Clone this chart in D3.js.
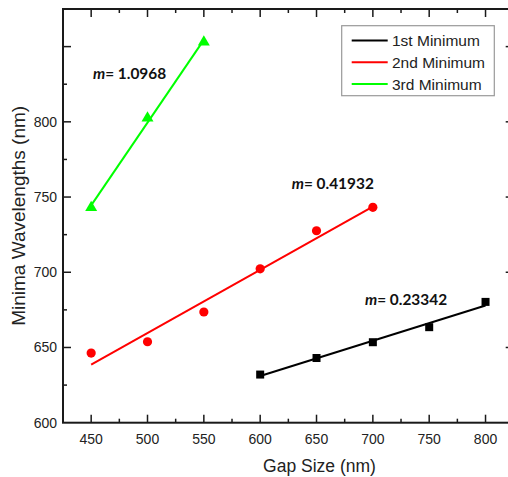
<!DOCTYPE html>
<html><head><meta charset="utf-8">
<script src="https://cdn.jsdelivr.net/npm/d3@7"></script>
<style>html,body{margin:0;padding:0;background:#fff;overflow:hidden}</style>
</head><body>
<svg id="c" width="508" height="477"></svg>
<script>
// ---- data ----
const gap1 = [600, 650, 700, 750, 800];
const min1 = [632, 643, 653.5, 663.5, 680.3];
const gap2 = [450, 500, 550, 600, 650, 700];
const min2 = [646.3, 653.8, 673.6, 702.3, 727.6, 743.2];
const gap3 = [450, 500, 550];
const min3 = [743, 802.5, 853];
const seriesNames = ["1st Minimum", "2nd Minimum", "3rd Minimum"];
const seriesColors = ["#000000", "#ff0000", "#00ff00"];
const slopeLabels = ["0.23342", "0.41932", "1.0968"];
const labelAnchorX = [693, 628, 451.6];
const labelAnchorY = [678.5, 755.6, 828.5];
const xTicks = [450, 500, 550, 600, 650, 700, 750, 800];
const yTicks = [600, 650, 700, 750, 800];
const xDomain = [425, 825];
const yDomain = [600, 875];

const svg = d3.select("#c");
const L = 63, T = 9, W = 450.7, H = 413.7;
const x = d3.scaleLinear().domain(xDomain).range([L, L + W]);
const y = d3.scaleLinear().domain(yDomain).range([T + H, T]);
const axisColor = "#1a1a1a";

function fit(xs, ys) {
  const mx = d3.mean(xs), my = d3.mean(ys);
  let sxy = 0, sxx = 0;
  xs.forEach((v, i) => { sxy += (v - mx) * (ys[i] - my); sxx += (v - mx) * (v - mx); });
  const b = sxy / sxx; return v => my + b * (v - mx);
}

const series = [
  {xs: gap1, ys: min1, shape: "square"},
  {xs: gap2, ys: min2, shape: "circle"},
  {xs: gap3, ys: min3, shape: "triangle"}
];

series.forEach((s, i) => {
  const f = fit(s.xs, s.ys);
  const x0 = d3.min(s.xs), x1 = d3.max(s.xs);
  svg.append("line").attr("x1", x(x0)).attr("y1", y(f(x0))).attr("x2", x(x1)).attr("y2", y(f(x1)))
    .attr("stroke", seriesColors[i]).attr("stroke-width", 2);
  const g = svg.append("g").attr("fill", seriesColors[i]);
  s.xs.forEach((v, j) => {
    const cx = x(v), cy = y(s.ys[j]);
    if (s.shape === "square") g.append("rect").attr("x", cx - 4).attr("y", cy - 4).attr("width", 8).attr("height", 8);
    else if (s.shape === "circle") g.append("circle").attr("cx", cx).attr("cy", cy).attr("r", 4.6);
    else g.append("path").attr("d", d3.symbol(d3.symbolTriangle, 62)()).attr("transform", `translate(${cx},${cy})`);
  });
});

// annotations
slopeLabels.forEach((s, i) => {
  const t = svg.append("text").attr("x", x(labelAnchorX[i])).attr("y", y(labelAnchorY[i]))
    .attr("font-family", "Lato, sans-serif").attr("font-weight", "bold").attr("font-size", 15.4).attr("fill", "#111");
  t.append("tspan").attr("font-style", "italic").text("m");
  t.append("tspan").text("= " + s);
});

// frame with inward ticks
const minorX = d3.range(xDomain[0], xDomain[1] + 0.1, 25);
const minorY = d3.range(yDomain[0], yDomain[1] + 0.1, 25);
function ticks(sel, vals, isMajor, orient) {
  vals.forEach(v => {
    const len = isMajor(v) ? 8 : 4;
    let a;
    if (orient === "bottom") a = [x(v), T + H, x(v), T + H - len];
    if (orient === "top") a = [x(v), T, x(v), T + len];
    if (orient === "left") a = [L, y(v), L + len, y(v)];
    if (orient === "right") a = [L + W, y(v), L + W - len, y(v)];
    sel.append("line").attr("x1", a[0]).attr("y1", a[1]).attr("x2", a[2]).attr("y2", a[3])
      .attr("stroke", axisColor).attr("stroke-width", 1.5);
  });
}
const fr = svg.append("g");
const majX = v => v % 50 === 0, majY = v => v % 50 === 0;
ticks(fr, minorX.filter(v => v > xDomain[0] && v < xDomain[1]), majX, "bottom");
ticks(fr, minorX.filter(v => v > xDomain[0] && v < xDomain[1]), majX, "top");
ticks(fr, minorY.filter(v => v > yDomain[0] && v < yDomain[1]), majY, "left");
ticks(fr, minorY.filter(v => v > yDomain[0] && v < yDomain[1]), majY, "right");
fr.append("rect").attr("x", L).attr("y", T).attr("width", W).attr("height", H)
  .attr("fill", "none").attr("stroke", axisColor).attr("stroke-width", 2);

// tick labels
const lab = svg.append("g").attr("font-family", "Liberation Sans, Arial, sans-serif").attr("font-size", 14).attr("fill", "#222");
xTicks.forEach(v => lab.append("text").attr("x", x(v)).attr("y", T + H + 21).attr("text-anchor", "middle").text(v));
yTicks.forEach(v => lab.append("text").attr("x", L - 6).attr("y", y(v) + 5).attr("text-anchor", "end").text(v));

// axis titles
svg.append("text").attr("x", x(650) + 3).attr("y", 472).attr("text-anchor", "middle")
  .attr("font-family", "Liberation Sans, Arial, sans-serif").attr("font-size", 17.5).attr("fill", "#222").text("Gap Size (nm)");
svg.append("text").attr("transform", `translate(25,${T + H / 2}) rotate(-90)`).attr("text-anchor", "middle")
  .attr("font-family", "Liberation Sans, Arial, sans-serif").attr("font-size", 19).attr("fill", "#222").text("Minima Wavelengths (nm)");

// legend
const lg = svg.append("g");
lg.append("rect").attr("x", 341.7).attr("y", 25.7).attr("width", 152.6).attr("height", 70)
  .attr("fill", "#fff").attr("stroke", "#999").attr("stroke-width", 1.2);
seriesNames.forEach((n, i) => {
  const cy = 40.5 + i * 21.8;
  lg.append("line").attr("x1", 351.7).attr("x2", 387.7).attr("y1", cy).attr("y2", cy)
    .attr("stroke", seriesColors[i]).attr("stroke-width", 2);
  lg.append("text").attr("x", 392).attr("y", cy + 5.5).attr("font-family", "Liberation Sans, Arial, sans-serif")
    .attr("font-size", 15.5).attr("fill", "#222").text(n);
});
</script>
</body></html>
